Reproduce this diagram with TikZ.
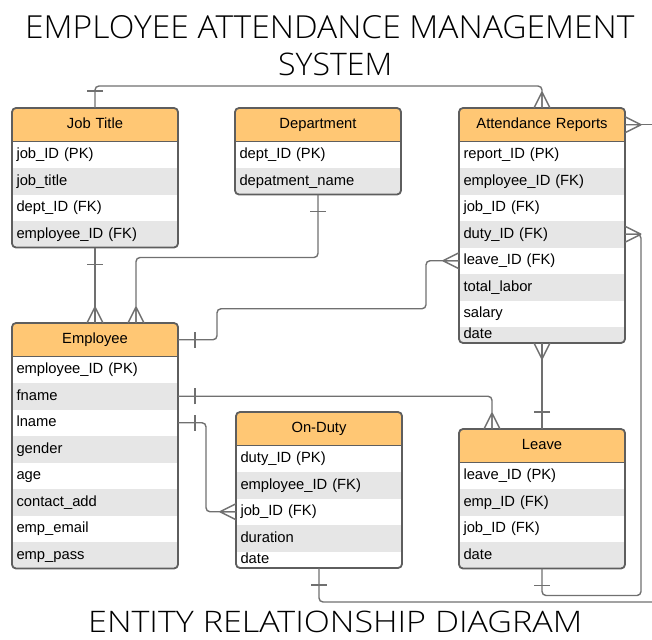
\documentclass[tikz,border=0pt]{standalone}
\usepackage{fontspec}
\setmainfont{Liberation Sans}
\newfontfamily\titlefont{Open Sans Light}
\usepackage{graphicx}
\usetikzlibrary{calc}
\definecolor{hdrfill}{HTML}{FFC774}
\definecolor{rowgray}{HTML}{E6E6E6}
\definecolor{boxline}{HTML}{5E5E5E}
\definecolor{linegray}{HTML}{707070}
\tikzset{
  conn/.style={draw=linegray, line width=1.4pt, rounded corners=4pt},
  cellfont/.style={font=\fontsize{14.75}{17}\selectfont},
  rowbox/.style={cellfont, inner xsep=4.5pt, inner ysep=0pt, text width=157pt, align=left,
    minimum width=166pt, text height=7.5pt, text depth=0pt, anchor=north west, outer sep=0pt},
  hdrbox/.style={cellfont, inner xsep=4.5pt, inner ysep=0pt, text width=157pt, align=center,
    minimum width=166pt, minimum height=33.5pt, text height=7.5pt, text depth=0pt,
    anchor=north west, outer sep=0pt, fill=hdrfill},
  outline/.style={draw=boxline, line width=1.8pt, rounded corners=4pt, inner sep=0pt,
    outer sep=0pt, minimum width=166pt, anchor=north west},
  titletext/.style={inner sep=0pt, anchor=base west},
  crow/.pic={\draw[conn, rounded corners=0pt] (16,0) -- (0,8) (16,0) -- (0,-8) (16,0) -- (0,0);},
  onebar/.pic={\draw[conn, rounded corners=0pt] (17,-8) -- (17,8);},
}
% #1 name, #2 left x, #3 top y, #4 bottom y, #5 title, #6 rows
\newcommand\erent[6]{%
  \begin{scope}
    \clip[rounded corners=4pt] (#2,-#3) rectangle (#2+166,-#4);
    \node[hdrbox] (#1-h) at (#2,-#3) {#5};
    \foreach \t [count=\i] in {#6} {
      \pgfmathsetmacro\rt{#3+33.5+(\i-1)*26.5}
      \pgfmathsetmacro\rh{min(26.5,#4-\rt)}
      \ifodd\i\def\rowcol{white}\else\def\rowcol{rowgray}\fi
      \node[rowbox, fill=\rowcol, minimum height=\rh pt] (#1-r\i) at (#2,-\rt) {\t};
    }
  \end{scope}
  \draw[boxline, line width=1.8pt] (#2,-#3-33.5) -- ++(166,0);
  \pgfmathsetmacro\bh{#4-#3}
  \node[outline, minimum height=\bh pt] (#1) at (#2,-#3) {};
}
\begin{document}
\begin{tikzpicture}[x=1pt,y=1pt]
\useasboundingbox (0,0) rectangle (652,-639);

% titles
\node[titletext] (t1) at (25,-39) {\resizebox{609pt}{23pt}{\titlefont EMPLOYEE ATTENDANCE MANAGEMENT}};
\node[titletext] (t2) at (278,-76) {\resizebox{114pt}{22.5pt}{\titlefont SYSTEM}};
\node[titletext] (t3) at (88,-632) {\resizebox{494pt}{21.5pt}{\titlefont ENTITY RELATIONSHIP DIAGRAM}};

% entities
\erent{jt}{12}{108}{247.5}{Job Title}{job\_ID (PK), job\_title, dept\_ID (FK), employee\_ID (FK)}
\erent{dept}{235}{108}{194.5}{Department}{dept\_ID (PK), depatment\_name}
\erent{ar}{459}{108}{343}{Attendance Reports}{report\_ID (PK), employee\_ID (FK), job\_ID (FK), duty\_ID (FK), leave\_ID (FK), total\_labor, salary, date}
\erent{emp}{12}{323}{568.5}{Employee}{employee\_ID (PK), fname, lname, gender, age, contact\_add, emp\_email, emp\_pass}
\erent{od}{236}{412}{568}{On-Duty}{duty\_ID (PK), employee\_ID (FK), job\_ID (FK), duration, date}
\erent{lv}{459}{429}{568.5}{Leave}{leave\_ID (PK), emp\_ID (FK), job\_ID (FK), date}

\coordinate (edgeT) at (652,-124.75);
\coordinate (edgeB) at (652,-602);

% Job Title -- Attendance Reports
\draw[conn] (jt.north) -- ++(0,22) -| (ar.north);
\pic[rotate=90] at (jt.north) {onebar};
\pic[rotate=90] at (ar.north) {crow};

% Job Title -- Employee
\draw[conn] (jt.south) -- (emp.north);
\pic[rotate=-90] at (jt.south) {onebar};
\pic[rotate=90] at (emp.north) {crow};

% Department -- Employee
\draw[conn] (dept.south) -- ++(0,-63) -| ([xshift=41pt]emp.north);
\pic[rotate=-90] at (dept.south) {onebar};
\pic[rotate=90] at ([xshift=41pt]emp.north) {crow};

% Employee -- Attendance Reports (leave_ID)
\draw[conn] (emp-h.east) -- ++(39,0) -- ++(0,31) -- ++(209,0) |- (ar-r5.west);
\pic at (emp-h.east) {onebar};
\pic[rotate=180] at (ar-r5.west) {crow};

% Employee fname -- Leave
\draw[conn] (emp-r2.east) -| ([xshift=-50pt]lv.north);
\pic at (emp-r2.east) {onebar};
\pic[rotate=90] at ([xshift=-50pt]lv.north) {crow};

% Employee lname -- On-Duty job_ID
\draw[conn] (emp-r3.east) -- ++(28,0) |- (od-r3.west);
\pic at (emp-r3.east) {onebar};
\pic[rotate=180] at (od-r3.west) {crow};

% Attendance Reports -- Leave
\draw[conn] (ar.south) -- (lv.north);
\pic[rotate=-90] at (ar.south) {crow};
\pic[rotate=90] at (lv.north) {onebar};

% Leave -- Attendance Reports (duty_ID)
\draw[conn] (lv.south) -- ++(0,-27) -| ($(ar-r4.east)+(16,0)$) -- (ar-r4.east);
\pic[rotate=-90] at (lv.south) {onebar};
\pic at (ar-r4.east) {crow};

% On-Duty -- off right edge
\draw[conn] (od.south) |- (edgeB);
\pic[rotate=-90] at (od.south) {onebar};

% Attendance Reports header -- off right edge
\draw[conn] (ar-h.east) -- (edgeT);
\pic at (ar-h.east) {crow};
\end{tikzpicture}
\end{document}
